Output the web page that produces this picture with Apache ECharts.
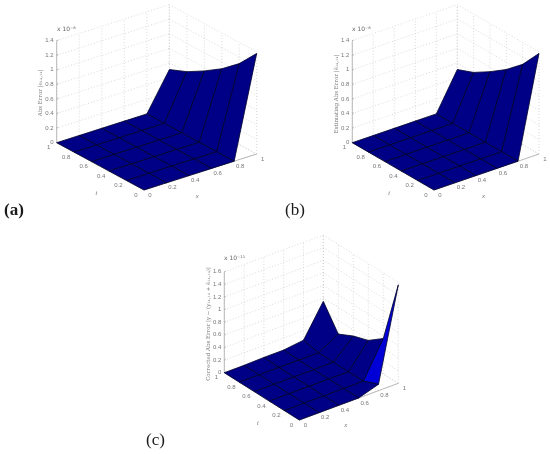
<!DOCTYPE html>
<html>
<head>
<meta charset="utf-8">
<style>
  html, body { margin: 0; padding: 0; background: #fff; }
  #chart { width: 550px; height: 454px; }
</style>
</head>
<body>
<div id="chart"></div>
<script src="https://cdn.jsdelivr.net/npm/echarts@6/dist/echarts.min.js"></script>
<script>
// grid of the surfaces
const xValues = [0, 0.2, 0.4, 0.6, 0.8, 1]
const tValues = [0, 0.2, 0.4, 0.6, 0.8, 1]
const zTicksAB = [0, 0.2, 0.4, 0.6, 0.8, 1, 1.2, 1.4]
const zTicksC = [0, 0.2, 0.4, 0.6, 0.8, 1, 1.2, 1.4, 1.6]

// one row per x value, one column per t value
const absErrorA = [
  [0, 0, 0, 0, 0, 0],
  [0, 0, 0, 0, 0, 0],
  [0, 0, 0, 0, 0, 0],
  [0, 0, 0, 0, 0, 0],
  [0, 0, 0, 0, 0, 0],
  [1.38, 1.11, 0.91, 0.75, 0.61, 0.51]
]
const estimatedErrorB = [
  [0, 0, 0, 0, 0, 0],
  [0, 0, 0, 0, 0, 0],
  [0, 0, 0, 0, 0, 0],
  [0, 0, 0, 0, 0, 0],
  [0, 0, 0, 0, 0, 0],
  [1.38, 1.1, 0.9, 0.74, 0.6, 0.51]
]
const correctedErrorC = [
  [0, 0, 0, 0, 0, 0],
  [0, 0, 0, 0, 0, 0],
  [0, 0, 0, 0, 0, 0.01],
  [0, 0, 0, 0, 0, 0.01],
  [0.1, 0, 0, 0, 0, 0.05],
  [1.56, 0.56, 0.38, 0.3, 0.18, 0.55]
]

// orthographic view of each panel: pixels per unit along x, t, z
const panels = [
  {
    z: absErrorA, zTicks: zTicksAB, exponent: 'x 10⁻⁸', zLabel: 'Abs Error |e₁₄,₁₄|',
    origin: [144, 190], ex: [112.7, -36], et: [-87.3, -47.3], ez: 72.9,
    labelY: 93, expPos: [57, 29],
    tag: '(a)', tagPos: [4, 211], tagWeight: 'bold'
  },
  {
    z: estimatedErrorB, zTicks: zTicksAB, exponent: 'x 10⁻⁸', zLabel: 'Estimating Abs Error |ẽ₁₄,₁₄|',
    origin: [434, 190], ex: [105, -36], et: [-81.7, -47.3], ez: 72.9,
    labelY: 94, expPos: [352, 29],
    tag: '(b)', tagPos: [285, 211], tagWeight: 'normal'
  },
  {
    z: correctedErrorC, zTicks: zTicksC, exponent: 'x 10⁻¹¹', zLabel: 'Corrected Abs Error |y − (y₁₄,₁₄ + ẽ₁₄,₁₄)|',
    origin: [299.3, 420], ex: [99, -36.7], et: [-75, -47.3], ez: 63.1,
    labelY: 324, expPos: [224, 258],
    tag: '(c)', tagPos: [146, 441], tagWeight: 'normal'
  }
]

const project = (p, x, t, z) => [
  p.origin[0] + x * p.ex[0] + t * p.et[0],
  p.origin[1] + x * p.ex[1] + t * p.et[1] - z * p.ez
]

// matlab colours a facet from its first corner, low end of jet
const facetColor = (z, zMax) => echarts.color.lerp(Math.min(1, z / zMax * 16), ['#000087', '#0000d6'])

const surfaceSeries = (p) => {
  const zMax = p.zTicks[p.zTicks.length - 1]
  const cells = []
  // back to front
  for (let i = xValues.length - 2; i >= 0; i--) {
    for (let j = tValues.length - 2; j >= 0; j--) {
      cells.push([i, j])
    }
  }
  return {
    type: 'custom',
    silent: true,
    clip: false,
    z: 3,
    data: cells,
    renderItem: (params, api) => {
      const i = api.value(0)
      const j = api.value(1)
      const corners = [[i, j], [i + 1, j], [i + 1, j + 1], [i, j + 1]]
      const points = corners.map(([a, b]) => api.coord(project(p, xValues[a], tValues[b], p.z[a][b])))
      return {
        type: 'polygon',
        shape: { points },
        style: { fill: facetColor(p.z[i][j], zMax), stroke: '#00002a', lineWidth: 0.8 }
      }
    }
  }
}

const frameSeries = (p) => {
  const zTicks = p.zTicks
  const zMax = zTicks[zTicks.length - 1]
  const dotted = []
  zTicks.forEach(z => {
    dotted.push([0, 1, z, 1, 1, z], [1, 1, z, 1, 0, z])
  })
  xValues.forEach(x => {
    dotted.push([x, 1, 0, x, 1, zMax], [x, 0, 0, x, 1, 0])
  })
  tValues.forEach(t => {
    dotted.push([1, t, 0, 1, t, zMax], [0, t, 0, 1, t, 0])
  })
  const solid = [[0, 1, 0, 0, 1, zMax], [0, 0, 0, 1, 0, 0], [0, 0, 0, 0, 1, 0]]
  zTicks.forEach(z => solid.push([0, 1, z, 0.015, 1, z]))
  const lines = dotted.map(s => s.concat(0)).concat(solid.map(s => s.concat(1)))
  return {
    type: 'custom',
    silent: true,
    clip: false,
    z: 1,
    data: lines,
    renderItem: (params, api) => {
      const a = api.coord(project(p, api.value(0), api.value(1), api.value(2)))
      const b = api.coord(project(p, api.value(3), api.value(4), api.value(5)))
      const isSolid = api.value(6) === 1
      return {
        type: 'line',
        shape: { x1: a[0], y1: a[1], x2: b[0], y2: b[1] },
        style: isSolid
          ? { stroke: '#a8a8a8', lineWidth: 0.8 }
          : { stroke: '#cacaca', lineWidth: 0.7, lineDash: [1, 2] }
      }
    }
  }
}

const labelSeries = (p) => {
  const labels = []
  p.zTicks.forEach(z => labels.push({ pos: project(p, 0, 1, z), dx: -3, dy: 0, text: String(z), align: 'right' }))
  xValues.forEach(x => labels.push({ pos: project(p, x, 0, 0), dx: 6, dy: 5, text: String(x), align: 'center' }))
  tValues.forEach(t => labels.push({ pos: project(p, 0, t, 0), dx: -8, dy: 5, text: String(t), align: 'center' }))
  labels.push({ pos: project(p, 0.5, 0, 0), dx: -3, dy: 24, text: 'x', align: 'center', italic: true })
  labels.push({ pos: project(p, 0, 0.5, 0), dx: -4, dy: 27, text: 't', align: 'center', italic: true })
  return {
    type: 'custom',
    silent: true,
    clip: false,
    z: 2,
    data: labels.map((l, idx) => idx),
    renderItem: (params, api) => {
      const l = labels[api.value(0)]
      const c = api.coord(l.pos)
      return {
        type: 'text',
        x: c[0] + l.dx,
        y: c[1] + l.dy,
        style: {
          text: l.text,
          fill: '#777',
          font: (l.italic ? 'italic ' : '') + '6px "Liberation Sans", sans-serif',
          align: l.align,
          verticalAlign: 'middle'
        }
      }
    }
  }
}

const panelGraphics = (p) => {
  const left = project(p, 0, 1, 0)
  return [
    {
      type: 'text', x: p.expPos[0], y: p.expPos[1], silent: true,
      style: { text: p.exponent, fill: '#666', font: '6px "DejaVu Sans", sans-serif', verticalAlign: 'middle' }
    },
    {
      type: 'text', x: left[0] - 16, y: p.labelY, rotation: Math.PI / 2, silent: true,
      style: { text: p.zLabel, fill: '#777', font: '5.5px "DejaVu Serif", serif', align: 'center', verticalAlign: 'middle' }
    },
    {
      type: 'text', x: p.tagPos[0], y: p.tagPos[1], silent: true,
      style: { text: p.tag, fill: '#1a1a1a', font: p.tagWeight + ' 17px "Liberation Serif", serif', verticalAlign: 'middle' }
    }
  ]
}

const chart = echarts.init(document.getElementById('chart'), null, { renderer: 'canvas' })

chart.setOption({
  animation: false,
  backgroundColor: '#fff',
  grid: { left: 0, right: 0, top: 0, bottom: 0 },
  xAxis: { type: 'value', min: 0, max: 550, show: false },
  yAxis: { type: 'value', min: 0, max: 454, inverse: true, show: false },
  series: panels.flatMap(p => [frameSeries(p), labelSeries(p), surfaceSeries(p)]),
  graphic: { elements: panels.flatMap(panelGraphics) }
})
</script>
</body>
</html>
